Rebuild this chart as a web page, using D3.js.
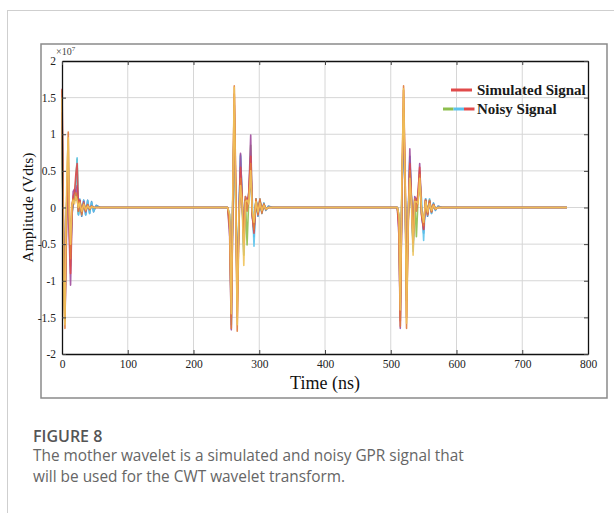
<!DOCTYPE html>
<html>
<head>
<meta charset="utf-8">
<script src="https://cdn.jsdelivr.net/npm/d3@7"></script>
<style>
    body { margin: 0; background: #fff; }
    svg { display: block; }
</style>
</head>
<body>
<script>
// axis ticks
const xTicks = [0, 100, 200, 300, 400, 500, 600, 700, 800]
const yTicks = [-2, -1.5, -1, -0.5, 0, 0.5, 1, 1.5, 2]

// time samples (ns), three bursts then the flat tail
const timeNs = [
    0, 1, 3, 4.5, 6, 8, 9.5, 11, 13, 15, 17, 19, 21, 23, 25, 27, 30, 33, 36, 39, 42, 45, 48, 52, 58,
    252, 255, 257.5, 260, 262, 264, 266.5, 269, 271.5, 274, 276.5, 279, 281.5, 284, 287, 289.5, 292, 295, 298, 301, 304, 307, 310, 314, 320,
    510, 512.5, 514.5, 517, 519.5, 522, 524, 526.5, 529, 531.5, 534, 536.5, 539, 541.5, 544, 547, 550, 553, 556, 559, 562, 565, 568, 572, 578,
    768
]

// amplitude (x10^7) of every trace
const blueTrace = [
    1.1, 0.4, -0.9, -1.35, -0.3, 0.3, 0.45, -0.15, -0.6, -0.1, 0.05, 0.1, 0.1, 0.2, -0.1, 0.1, -0.12, 0.1, -0.1, 0.1, -0.08, 0.08, -0.06, 0.03, 0,
    0, -0.1, -1.2, 0.25, 1.1, 0.15, -1.0, -0.2, 0.72, 0.08, -0.55, 0.1, 0.08, 0.12, 0.4, -0.08, -0.4, 0.12, -0.12, 0.1, -0.08, 0.06, -0.04, 0.02, 0,
    0, -0.1, -1.2, 0.25, 1.05, 0.15, -1.0, -0.2, 0.7, 0.08, -0.5, 0.1, 0.08, 0.12, 0.35, -0.08, -0.35, 0.12, -0.12, 0.1, -0.08, 0.06, -0.04, 0.02, 0,
    0
]
const greenTrace = [
    1.0, 0.3, -0.7, -1.3, -0.4, 0.35, 0.5, -0.25, -0.7, -0.1, 0.08, 0.12, 0.35, 0.66, -0.08, 0.1, -0.07, 0.08, -0.06, 0.05, -0.04, 0.03, -0.02, 0.01, 0,
    0, -0.15, -1.3, 0.3, 1.2, 0.2, -1.1, -0.15, 0.5, 0.1, -0.65, 0.12, -0.51, 0.1, 0.85, -0.1, -0.25, 0.1, -0.08, 0.1, -0.06, 0.04, -0.02, 0, 0,
    0, -0.15, -1.3, 0.3, 1.15, 0.2, -1.1, -0.15, 0.5, 0.1, -0.55, 0.12, -0.4, 0.1, 0.5, -0.1, -0.25, 0.1, -0.08, 0.1, -0.06, 0.04, -0.02, 0, 0,
    0
]
const cyanTrace = [
    1.2, 0.5, -0.8, -1.4, -0.5, 0.4, 0.62, -0.2, -0.8, -0.05, 0.1, 0.15, 0.3, 0.68, -0.1, 0.12, -0.1, 0.1, -0.1, 0.09, -0.08, 0.07, -0.05, 0.02, 0,
    0, -0.2, -1.6, 0.2, 1.3, 0.1, -1.2, -0.1, 0.7, 0.15, -0.62, 0.1, 0.05, 0.2, 0.5, 0.1, -0.53, 0.12, -0.1, 0.12, -0.08, 0.06, -0.03, 0.01, 0,
    0, -0.2, -1.5, 0.2, 1.25, 0.1, -1.2, -0.1, 0.65, 0.15, -0.6, 0.1, 0.05, 0.15, 0.4, 0.1, -0.45, 0.12, -0.1, 0.12, -0.08, 0.06, -0.03, 0.01, 0,
    0
]
const purpleTrace = [
    1.3, 0.6, -1.0, -1.55, -0.8, 0.2, 0.5, -0.4, -1.06, -0.2, 0.22, 0.25, 0.2, 0.3, 0.05, 0.1, -0.08, 0.08, -0.06, 0.04, -0.02, 0.02, 0, 0, 0,
    0, -0.4, -1.67, 0.1, 1.4, 0.3, -1.3, -0.2, 0.74, 0.1, -0.4, 0.15, 0.1, 0.15, 0.99, -0.15, -0.3, 0.1, -0.1, 0.08, -0.05, 0.04, -0.02, 0, 0,
    0, -0.4, -1.65, 0.1, 1.35, 0.3, -1.27, -0.2, 0.8, 0.1, -0.4, 0.15, 0.1, 0.15, 0.6, -0.12, -0.3, 0.1, -0.1, 0.08, -0.05, 0.04, -0.02, 0, 0,
    0
]
const simulatedTrace = [
    1.62, 0.9, -0.9, -1.52, -0.6, 0.3, 0.55, -0.3, -0.9, -0.1, 0.15, 0.2, 0.45, 0.6, -0.05, 0.1, -0.06, 0.05, -0.04, 0.03, -0.02, 0.01, 0, 0, 0,
    0, -0.2, -1.5, 0.3, 1.55, 0.4, -1.5, -0.2, 0.55, 0.1, -0.45, 0.1, 0.05, 0.2, 0.7, -0.1, -0.35, 0.1, -0.08, 0.1, -0.06, 0.04, -0.02, 0, 0,
    0, -0.3, -1.55, 0.2, 1.6, 0.3, -1.5, -0.2, 0.6, 0.1, -0.5, 0.1, 0.05, 0.2, 0.55, -0.1, -0.3, 0.1, -0.08, 0.08, -0.06, 0.04, -0.02, 0, 0,
    0
]
const orangeTrace = [
    1.6, 0.4, -1.2, -1.65, -0.4, 0.5, 1.03, 0.1, -0.7, 0.05, 0.12, 0.1, 0.2, 0.15, -0.05, 0.08, -0.1, 0.06, -0.05, 0.04, -0.03, 0.02, 0, 0, 0,
    0, -0.3, -1.65, 0.2, 1.66, 0.5, -1.69, -0.3, 0.4, 0.12, -0.5, 0.15, -0.05, 0.1, 0.6, -0.1, -0.3, 0.12, -0.1, 0.12, -0.08, 0.05, -0.03, 0, 0,
    0, -0.2, -1.62, 0.3, 1.66, 0.4, -1.65, -0.3, 0.5, 0.1, -0.45, 0.12, -0.05, 0.1, 0.45, -0.1, -0.25, 0.1, -0.1, 0.1, -0.06, 0.04, -0.02, 0, 0,
    0
]
const yellowTrace = [
    1.5, 0.2, -1.3, -1.6, -0.2, 0.6, 0.95, -0.1, -0.5, 0.02, 0.1, 0.05, 0.15, 0.1, 0, 0.06, -0.05, 0.04, -0.03, 0.02, -0.01, 0.01, 0, 0, 0,
    0, -0.1, -1.45, 0.4, 1.64, 0.2, -1.6, -0.1, 0.3, 0.05, -0.79, 0.08, 0.1, 0.05, 0.5, -0.05, -0.2, 0.08, -0.06, 0.06, -0.04, 0.03, -0.02, 0, 0,
    0, -0.1, -1.4, 0.4, 1.62, 0.2, -1.58, -0.1, 0.4, 0.05, -0.65, 0.08, 0.08, 0.05, 0.4, -0.05, -0.2, 0.08, -0.06, 0.05, -0.04, 0.03, -0.02, 0, 0,
    0
]

const traces = [
    { values: blueTrace, color: "#3b86c6" },
    { values: greenTrace, color: "#8dbe4e" },
    { values: cyanTrace, color: "#5cc3ec" },
    { values: purpleTrace, color: "#a04c9c" },
    { values: simulatedTrace, color: "#e04a4a" },
    { values: orangeTrace, color: "#e07b3c" },
    { values: yellowTrace, color: "#efc35a" }
]

const legendItems = ["Simulated Signal", "Noisy Signal"]
const noisyLegendColors = ["#8dbe4e", "#5cc3ec", "#e04a4a"]

const W = 614, H = 513
const margin = { top: 61, right: 26, bottom: 159, left: 62 }
const width = W - margin.left - margin.right
const height = H - margin.top - margin.bottom
const serif = "'Liberation Serif', 'Times New Roman', serif"

let svg = d3.select("body")
    .append("svg")
    .attr("width", W)
    .attr("height", H)

svg.append("rect").attr("width", W).attr("height", H).attr("fill", "#fff")

// page card edges
svg.append("line").attr("x1", 7.5).attr("x2", 7.5).attr("y1", 10).attr("y2", H)
    .attr("stroke", "#cfcfcf")
svg.append("line").attr("x1", 7).attr("x2", W).attr("y1", 10.5).attr("y2", 10.5)
    .attr("stroke", "#cfcfcf")

// figure frame
svg.append("rect")
    .attr("x", 41).attr("y", 44)
    .attr("width", 566).attr("height", 354)
    .attr("fill", "none")
    .attr("stroke", "#8a8a8a")
    .attr("stroke-width", 1.5)

let g = svg.append("g")
    .attr("transform", `translate(${margin.left},${margin.top})`)

let x = d3.scaleLinear().domain([0, 800]).range([0, width])
let y = d3.scaleLinear().domain([-2, 2]).range([height, 0])

// grid
g.append("g")
    .selectAll("line")
    .data(xTicks.slice(1, -1))
    .join("line")
    .attr("x1", d => x(d)).attr("x2", d => x(d))
    .attr("y1", 0).attr("y2", height)
    .attr("stroke", "#d6d6d6")
g.append("g")
    .selectAll("line")
    .data(yTicks.slice(1, -1))
    .join("line")
    .attr("y1", d => y(d)).attr("y2", d => y(d))
    .attr("x1", 0).attr("x2", width)
    .attr("stroke", "#d6d6d6")

// traces
let line = d3.line()
    .x((d, i) => x(timeNs[i]))
    .y(d => y(d))

g.append("g")
    .selectAll("path")
    .data(traces)
    .join("path")
    .attr("d", d => line(d.values))
    .attr("fill", "none")
    .attr("stroke", d => d.color)
    .attr("stroke-width", 1.6)
    .attr("stroke-opacity", 0.9)
    .attr("stroke-linejoin", "round")

// axes (matlab style, ticks inward), plain hyphen for negatives
g.append("g")
    .attr("transform", `translate(0,${height})`)
    .call(d3.axisBottom(x).tickValues(xTicks).tickFormat(d => String(d)).tickSizeInner(-4).tickSizeOuter(0).tickPadding(6))
g.append("g")
    .call(d3.axisLeft(y).tickValues(yTicks).tickFormat(d => String(d)).tickSizeInner(-4).tickSizeOuter(0).tickPadding(6))
g.append("g")
    .call(d3.axisTop(x).tickValues(xTicks).tickFormat("").tickSizeInner(-4).tickSizeOuter(0))
g.append("g")
    .attr("transform", `translate(${width},0)`)
    .call(d3.axisRight(y).tickValues(yTicks).tickFormat("").tickSizeInner(-4).tickSizeOuter(0))

g.selectAll(".domain").attr("stroke", "#111").attr("stroke-width", 1.3)
g.selectAll(".tick line").attr("stroke", "#444")
g.selectAll(".tick text")
    .style("font-family", serif)
    .style("font-size", "11.5px")
    .attr("fill", "#222")

// exponent label
let expo = g.append("text")
    .attr("x", -6).attr("y", -6)
    .style("font-family", serif)
    .attr("font-size", 10)
    .attr("fill", "#444")
expo.append("tspan").text("×10")
expo.append("tspan").attr("dy", -4).attr("font-size", 7).text("7")

// axis titles
g.append("text")
    .attr("x", width / 2).attr("y", height + 35)
    .attr("text-anchor", "middle")
    .style("font-family", serif)
    .attr("font-size", 18)
    .attr("fill", "#111")
    .text("Time (ns)")

g.append("text")
    .attr("transform", `translate(${-29},${height / 2}) rotate(-90)`)
    .attr("text-anchor", "middle")
    .style("font-family", serif)
    .attr("font-size", 15.5)
    .attr("fill", "#111")
    .text("Amplitude (Vdts)")

// legend
let legend = svg.append("g").attr("transform", "translate(477,0)")
legend.append("line")
    .attr("x1", -26).attr("x2", -5).attr("y1", 90).attr("y2", 90)
    .attr("stroke", "#e04a4a").attr("stroke-width", 3)
legend.selectAll("line.noisy")
    .data(noisyLegendColors)
    .join("line")
    .attr("class", "noisy")
    .attr("x1", (d, i) => -34 + i * 10.5).attr("x2", (d, i) => -23.5 + i * 10.5)
    .attr("y1", 109).attr("y2", 109)
    .attr("stroke", d => d).attr("stroke-width", 3)
legend.selectAll("text")
    .data(legendItems)
    .join("text")
    .attr("x", 0)
    .attr("y", (d, i) => 95 + i * 18.5)
    .style("font-family", serif)
    .attr("font-weight", "bold")
    .attr("font-size", 15)
    .attr("fill", "#1a1a1a")
    .text(d => d)

// caption
svg.append("text")
    .attr("x", 33).attr("y", 442)
    .attr("font-family", "'Open Sans', sans-serif")
    .attr("font-size", 16)
    .attr("font-weight", 600)
    .attr("fill", "#555")
    .text("FIGURE 8")

const captionLines = [
    "The mother wavelet is a simulated and noisy GPR signal that",
    "will be used for the CWT wavelet transform."
]
svg.selectAll("text.caption")
    .data(captionLines)
    .join("text")
    .attr("class", "caption")
    .attr("x", 33)
    .attr("y", (d, i) => 461 + i * 21)
    .attr("font-family", "'Open Sans', sans-serif")
    .attr("font-size", 15.4)
    .attr("fill", "#666")
    .text(d => d)
</script>
</body>
</html>
